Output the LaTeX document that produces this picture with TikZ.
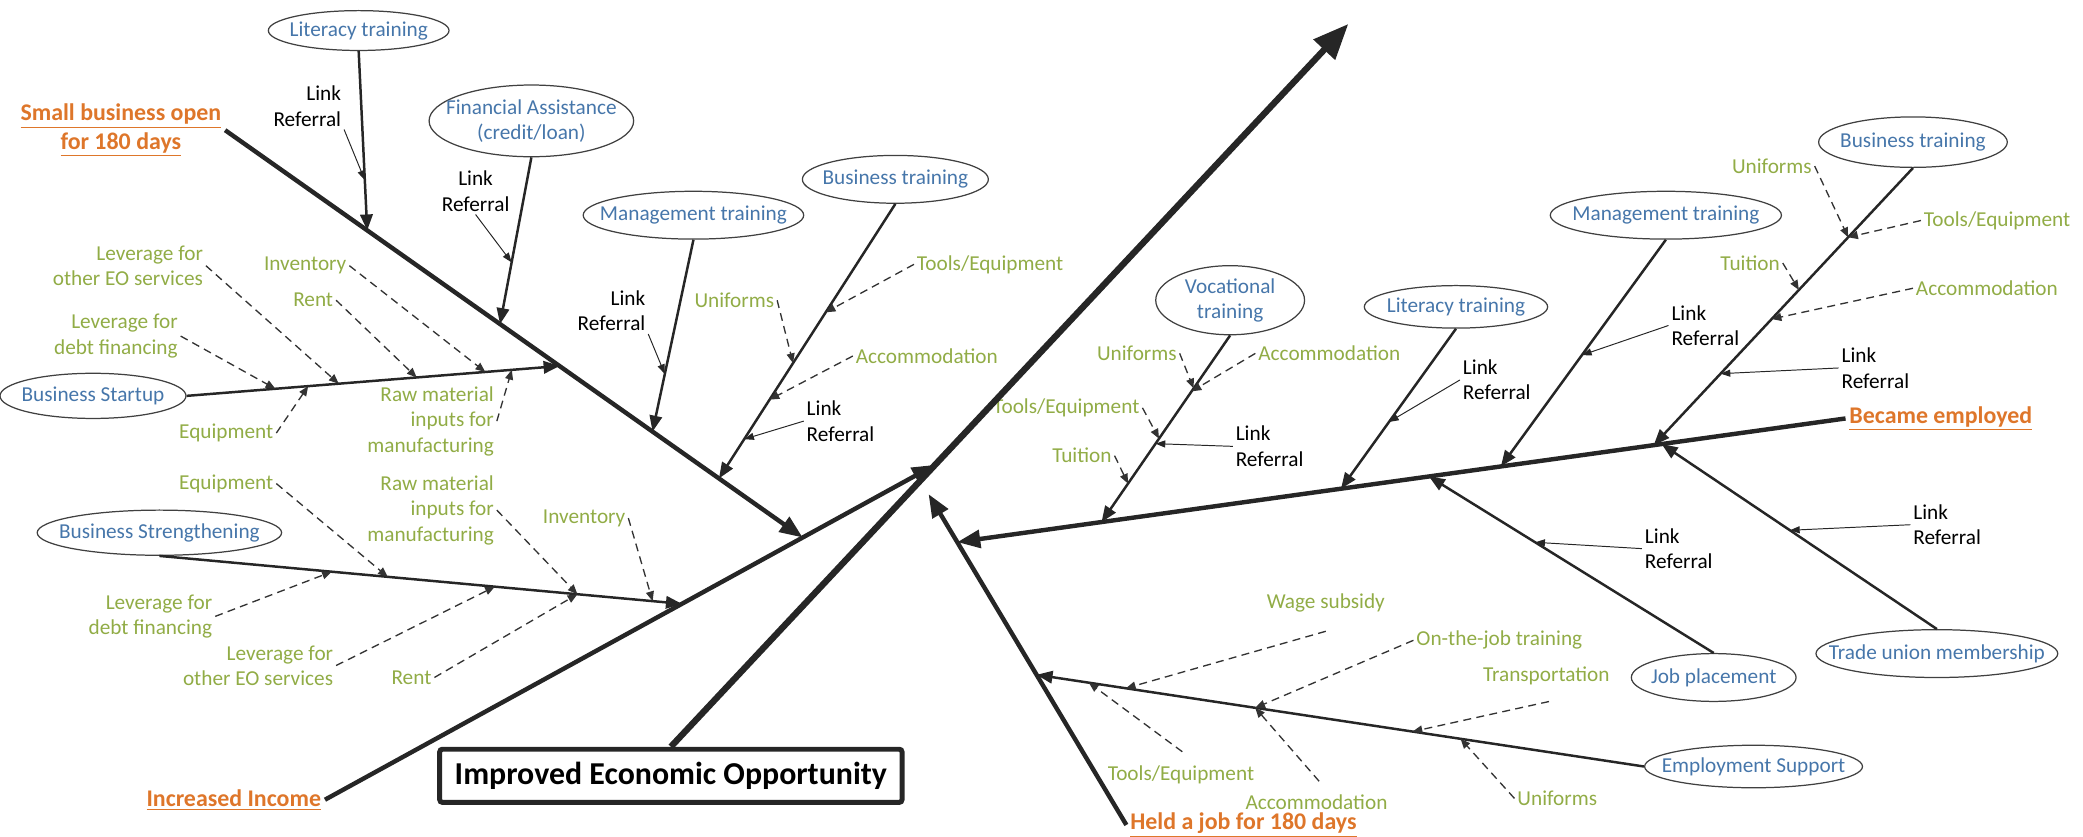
\documentclass[tikz,border=0pt]{standalone}
\usepackage{fontspec}
\setmainfont{Carlito}
\usetikzlibrary{arrows.meta,shapes.geometric,calc}

\definecolor{causeblue}{RGB}{70,118,170}
\definecolor{itemgreen}{RGB}{145,172,70}
\definecolor{goalorange}{RGB}{222,118,42}

\tikzset{
  causeell/.style={ellipse, draw=black!75, line width=0.7pt, text=causeblue, align=center,
    inner xsep=-20pt, inner ysep=-8pt, font=\fontsize{12}{14}\selectfont},
  itemtxt/.style={text=itemgreen, inner sep=1.5pt, font=\fontsize{12}{14.4}\selectfont},
  linktxt/.style={inner sep=1.5pt, font=\fontsize{12}{14.4}\selectfont},
  goaltxt/.style={text=goalorange, align=center, inner sep=2pt, font=\bfseries\fontsize{13.5}{16}\selectfont},
  outcomebox/.style={draw=black!85, line width=2.8pt, rounded corners=1.5pt, fill=white,
    minimum width=261pt, minimum height=30pt, font=\bfseries\fontsize{18}{20}\selectfont},
  bigarrow/.style={line width=3.6pt, black!85, -{Triangle[length=20pt,width=16pt]}},
  spine/.style={line width=2.5pt, black!85, -{Triangle[length=13pt,width=10pt]}},
  bone/.style={line width=1.4pt, black!85, -{Triangle[length=9pt,width=7pt]}},
  feed/.style={line width=0.75pt, black!80, dash pattern=on 4.5pt off 3pt, -{Triangle[length=5.5pt,width=4.5pt]}},
  linkarrow/.style={line width=0.55pt, black!85, -{Triangle[length=5.5pt,width=4pt]}}
}

\begin{document}
\begin{tikzpicture}[x=0.75pt, y=-0.75pt]
    \useasboundingbox (0,0) rectangle (1568,630);

    % Outcome and goals
    \node[outcomebox] (ieo) at (505,584) {Improved Economic Opportunity};
    \node[goaltxt] (sbo) at (91,98) {\underline{Small business open}\\\underline{for 180 days}};
    \node[goaltxt] (inc) at (176,602) {\underline{Increased Income}};
    \node[goaltxt] (held) at (936,621) {\underline{Held a job for 180 days}};
    \node[goaltxt] (emp) at (1461,315) {\underline{Became employed}};

    % Services (ellipses)
    \node[causeell, minimum width=102pt, minimum height=22.5pt] (litL) at (270,23) {Literacy training};
    \node[causeell, minimum width=115.5pt, minimum height=40.5pt] (finA) at (400,91) {Financial Assistance\\(credit/loan)};
    \node[causeell, minimum width=124.5pt, minimum height=27pt] (mgtL) at (522,162) {Management training};
    \node[causeell, minimum width=105pt, minimum height=27pt] (bizL) at (674,135) {Business training};
    \node[causeell, minimum width=105pt, minimum height=25.5pt] (bStart) at (70,298) {Business Startup};
    \node[causeell, minimum width=138pt, minimum height=25.5pt] (bStr) at (120,401) {Business Strengthening};
    \node[causeell, minimum width=84pt, minimum height=39pt] (voc) at (926,226) {Vocational\\training};
    \node[causeell, minimum width=103.5pt, minimum height=24pt] (litR) at (1096,231) {Literacy training};
    \node[causeell, minimum width=130.5pt, minimum height=27pt] (mgtR) at (1254,162) {Management training};
    \node[causeell, minimum width=106.5pt, minimum height=28.5pt] (bizR) at (1440,107) {Business training};
    \node[causeell, minimum width=93pt, minimum height=27pt] (jobP) at (1290,510) {Job placement};
    \node[causeell, minimum width=136.5pt, minimum height=27pt] (trade) at (1458,492) {Trade union membership};
    \node[causeell, minimum width=123pt, minimum height=24pt] (empS) at (1320,577) {Employment Support};

    % Link / Referral labels
    \node[linktxt, align=right, anchor=east] (lrLitL) at (259,80) {Link\\Referral};
    \node[linktxt, align=center] (lrFin) at (358,144) {Link\\Referral};
    \node[linktxt, align=right, anchor=east] (lrMgtL) at (488,234) {Link\\Referral};
    \node[linktxt, align=left, anchor=west] (lrBizL) at (605,317) {Link\\Referral};
    \node[linktxt, align=left, anchor=west] (lrVoc) at (928,336) {Link\\Referral};
    \node[linktxt, align=left, anchor=west] (lrLitR) at (1099,286) {Link\\Referral};
    \node[linktxt, align=left, anchor=west] (lrMgtR) at (1256,245) {Link\\Referral};
    \node[linktxt, align=left, anchor=west] (lrBizR) at (1384,277) {Link\\Referral};
    \node[linktxt, align=left, anchor=west] (lrJob) at (1236,413) {Link\\Referral};
    \node[linktxt, align=left, anchor=west] (lrTrade) at (1438,395) {Link\\Referral};

    % Inputs, Business Startup
    \node[itemtxt, align=right, anchor=east] (levEO1) at (155,200) {Leverage for\\other EO services};
    \node[itemtxt, align=right, anchor=east] (levD1) at (136,253) {Leverage for\\debt financing};
    \node[itemtxt, anchor=east] (inv1) at (263,200) {Inventory};
    \node[itemtxt, anchor=east] (rent1) at (253,226) {Rent};
    \node[itemtxt, anchor=east] (equ1) at (208,326) {Equipment};
    \node[itemtxt, align=right, anchor=east] (raw1) at (374,317) {Raw material\\inputs for\\manufacturing};
    % Inputs, Business Strengthening
    \node[itemtxt, anchor=east] (equ2) at (208,364) {Equipment};
    \node[itemtxt, align=right, anchor=east] (raw2) at (374,384) {Raw material\\inputs for\\manufacturing};
    \node[itemtxt, anchor=east] (inv2) at (473,390) {Inventory};
    \node[itemtxt, align=right, anchor=east] (levD2) at (162,464) {Leverage for\\debt financing};
    \node[itemtxt, align=right, anchor=east] (levEO2) at (253,501) {Leverage for\\other EO services};
    \node[itemtxt, anchor=east] (rent2) at (327,510) {Rent};
    % Inputs, Business training (left)
    \node[itemtxt, anchor=west] (toolL) at (688,199) {Tools/Equipment};
    \node[itemtxt, anchor=east] (uniL) at (585,226) {Uniforms};
    \node[itemtxt, anchor=west] (accL) at (642,268) {Accommodation};
    % Inputs, Vocational training
    \node[itemtxt, anchor=east] (uniV) at (888,266) {Uniforms};
    \node[itemtxt, anchor=west] (accV) at (945,266) {Accommodation};
    \node[itemtxt, anchor=east] (toolV) at (860,307) {Tools/Equipment};
    \node[itemtxt, anchor=east] (tuiV) at (839,343) {Tuition};
    % Inputs, Business training (right)
    \node[itemtxt, anchor=east] (uniR) at (1366,125) {Uniforms};
    \node[itemtxt, anchor=west] (toolR) at (1446,166) {Tools/Equipment};
    \node[itemtxt, anchor=east] (tuiR) at (1342,198) {Tuition};
    \node[itemtxt, anchor=west] (accR) at (1440,217) {Accommodation};
    % Inputs, Employment Support
    \node[itemtxt] (wage) at (998,454) {Wage subsidy};
    \node[itemtxt, anchor=west] (ojt) at (1064,482) {On-the-job training};
    \node[itemtxt] (trans) at (1164,509) {Transportation};
    \node[itemtxt, anchor=west] (uniE) at (1140,601) {Uniforms};
    \node[itemtxt] (toolE) at (889,583) {Tools/Equipment};
    \node[itemtxt] (accE) at (991,604) {Accommodation};

    % Main bones
    \coordinate (tip) at (1015,18);
    \coordinate (hTip) at (699,372);
    \draw[bigarrow] (ieo.north) -- (tip) coordinate[pos=.39] (ctr);
    \draw[spine] (inc.east) -- (ctr) coordinate[pos=.585] (iB) coordinate[pos=.783] (iS);
    \draw[spine] (held.west) -- (hTip) coordinate[pos=.454] (hES) coordinate[pos=.855] (hE);
    \draw[spine] (sbo.east) -- (iS) coordinate[pos=.246] (sLit) coordinate[pos=.476] (sFin)
        coordinate[pos=.579] (sBS) coordinate[pos=.74] (sMgt) coordinate[pos=.855] (sBiz);
    \draw[spine] (emp.west) -- (hE) coordinate[pos=.207] (eTrd) coordinate[pos=.216] (eBiz)
        coordinate[pos=.388] (eMgt) coordinate[pos=.469] (eJob) coordinate[pos=.568] (eLit) coordinate[pos=.8376] (eVoc);

    % Service bones
    \draw[bone] (litL.south) -- (sLit) coordinate[pos=.72] (litLr);
    \draw[bone] (finA.south) -- (sFin) coordinate[pos=.63] (finr);
    \draw[bone] (mgtL.south) -- (sMgt) coordinate[pos=.70] (mgtLr);
    \draw[bone] (bizL.south) -- (sBiz) coordinate[pos=.395] (bizLt) coordinate[pos=.58] (bizLu)
        coordinate[pos=.713] (bizLa) coordinate[pos=.857] (bizLr);
    \draw[bone] (bStart.east) -- (sBS) coordinate[pos=.238] (bsD) coordinate[pos=.326] (bsQ)
        coordinate[pos=.408] (bsO) coordinate[pos=.617] (bsR) coordinate[pos=.801] (bsI) coordinate[pos=.872] (bsM);
    \draw[bone] (bStr.south) -- (iB) coordinate[pos=.33] (stD) coordinate[pos=.437] (stQ)
        coordinate[pos=.642] (stO) coordinate[pos=.80] (stM) coordinate[pos=.944] (stI);
    \draw[bone] (voc.south) -- (eVoc) coordinate[pos=.284] (vocU) coordinate[pos=.30] (vocA)
        coordinate[pos=.553] (vocT) coordinate[pos=.58] (vocR) coordinate[pos=.794] (vocN);
    \draw[bone] (litR.south) -- (eLit) coordinate[pos=.583] (litRr);
    \draw[bone] (mgtR.south) -- (eMgt) coordinate[pos=.509] (mgtRr);
    \draw[bone] (bizR.south) -- (eBiz) coordinate[pos=.25] (bizRu) coordinate[pos=.44] (bizRn)
        coordinate[pos=.545] (bizRa) coordinate[pos=.742] (bizRr);
    \draw[bone] (jobP.north) -- (eJob) coordinate[pos=.627] (jobr);
    \draw[bone] (trade.north) -- (eTrd) coordinate[pos=.534] (trdr);
    \draw[bone] (empS.west) -- (hES) coordinate[pos=.302] (esU) coordinate[pos=.381] (esT)
        coordinate[pos=.64] (esA) coordinate[pos=.853] (esW) coordinate[pos=.914] (esQ);

    % Dashed inputs
    \draw[feed] (levD1.east) -- (bsD);
    \draw[feed] (equ1.east) -- (bsQ);
    \draw[feed] (levEO1.east) -- (bsO);
    \draw[feed] (rent1.east) -- (bsR);
    \draw[feed] (inv1.east) -- (bsI);
    \draw[feed] (raw1.east) -- (bsM);
    \draw[feed] (levD2.east) -- (stD);
    \draw[feed] (equ2.east) -- (stQ);
    \draw[feed] (levEO2.east) -- (stO);
    \draw[feed] (raw2.east) -- (stM);
    \draw[feed] (rent2.east) -- (stM);
    \draw[feed] (inv2.east) -- (stI);
    \draw[feed] (toolL.west) -- (bizLt);
    \draw[feed] (uniL.east) -- (bizLu);
    \draw[feed] (accL.west) -- (bizLa);
    \draw[feed] (uniV.east) -- (vocU);
    \draw[feed] (accV.west) -- (vocA);
    \draw[feed] (toolV.east) -- (vocT);
    \draw[feed] (tuiV.east) -- (vocN);
    \draw[feed] (uniR.east) -- (bizRu);
    \draw[feed] (toolR.west) -- (bizRu);
    \draw[feed] (tuiR.east) -- (bizRn);
    \draw[feed] (accR.west) -- (bizRa);
    \draw[feed] ($(wage.south)+(0,12)$) -- (esW);
    \draw[feed] (ojt.west) -- (esA);
    \draw[feed] ($(trans.south)+(2,10)$) -- (esT);
    \draw[feed] (uniE.west) -- (esU);
    \draw[feed] ($(toolE.north)+(1,-8)$) -- (esQ);
    \draw[feed] ($(accE.north)+(2,-8)$) -- (esA);

    % Link / Referral arrows
    \draw[linkarrow] (lrLitL.south east) -- (litLr);
    \draw[linkarrow] (lrFin.south) -- (finr);
    \draw[linkarrow] (lrMgtL.south east) -- (mgtLr);
    \draw[linkarrow] (lrBizL.west) -- (bizLr);
    \draw[linkarrow] (lrVoc.west) -- (vocR);
    \draw[linkarrow] (lrLitR.west) -- (litRr);
    \draw[linkarrow] (lrMgtR.west) -- (mgtRr);
    \draw[linkarrow] (lrBizR.west) -- (bizRr);
    \draw[linkarrow] (lrJob.west) -- (jobr);
    \draw[linkarrow] (lrTrade.west) -- (trdr);
\end{tikzpicture}
\end{document}
